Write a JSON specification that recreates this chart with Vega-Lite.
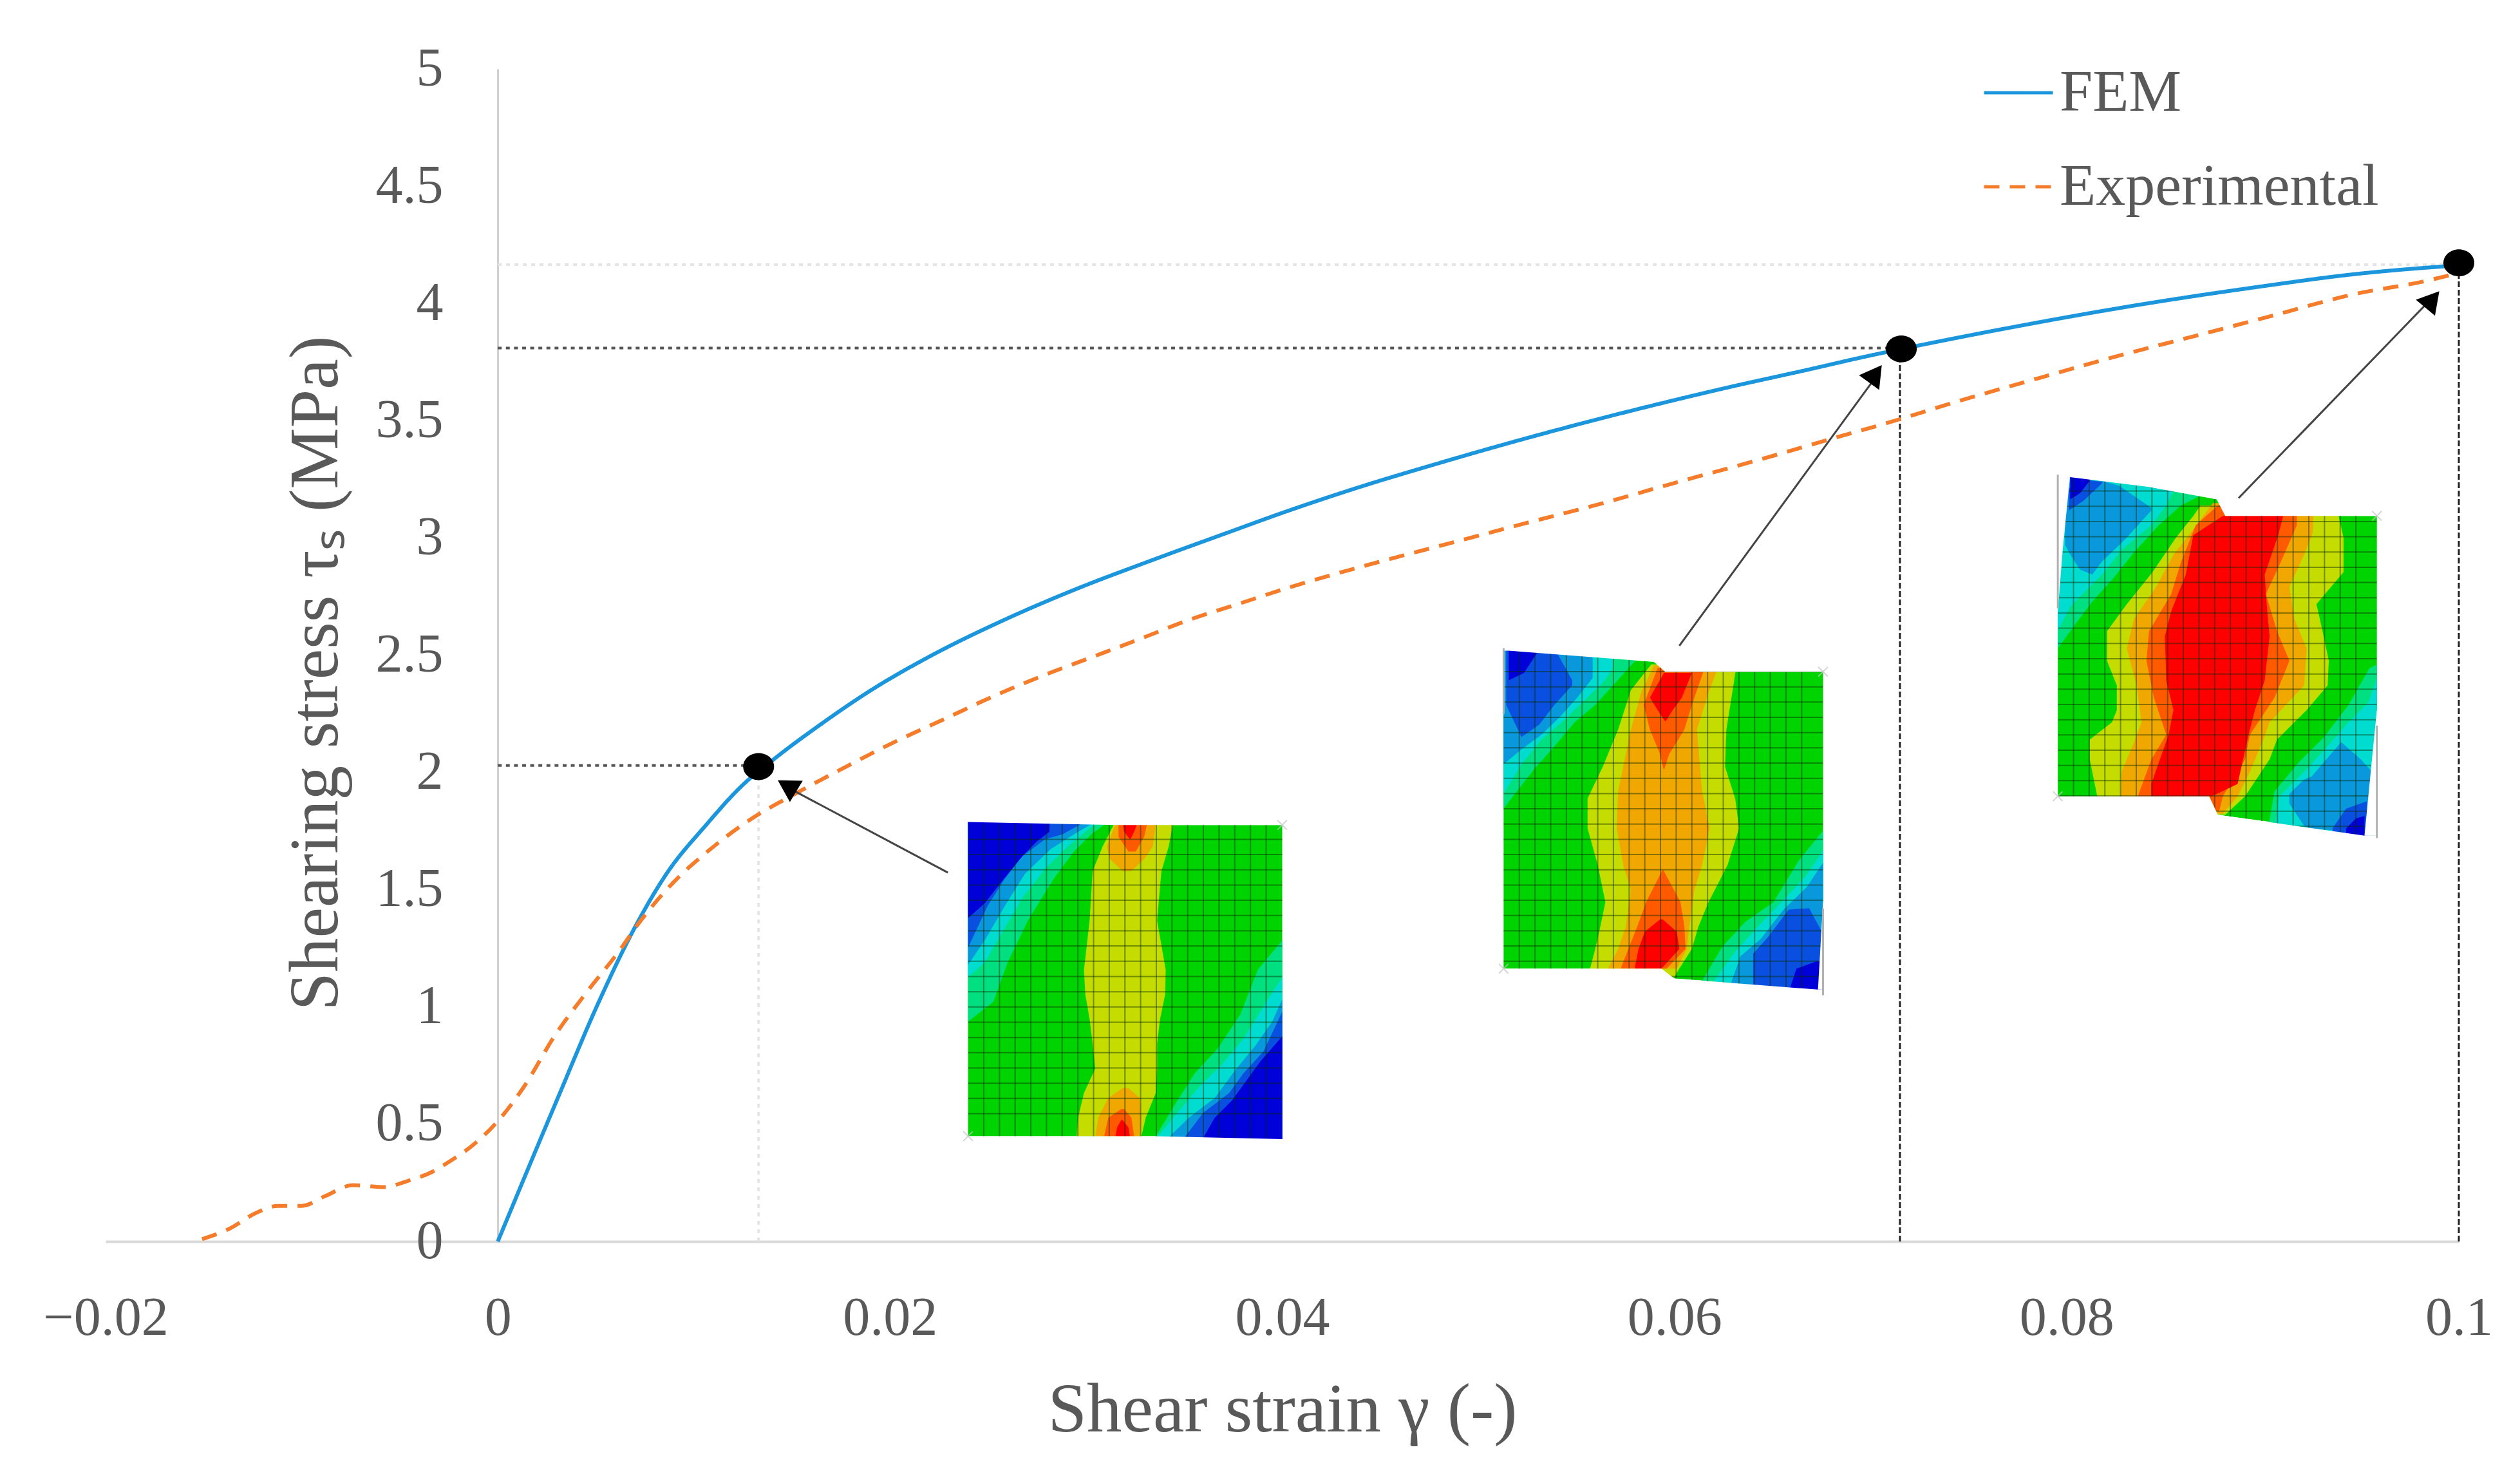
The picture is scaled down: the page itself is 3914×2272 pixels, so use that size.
{"$schema":"https://vega.github.io/schema/vega-lite/v6.json","width":3655,"height":1821,"autosize":"none","padding":{"left":164,"top":107,"right":95,"bottom":344},"background":"white","config":{"view":{"stroke":null},"font":"Liberation Serif"},
"datasets":{
"curves":[
{"series":"FEM","x":0,"y":0},{"series":"FEM","x":0.00308,"y":0.616},{"series":"FEM","x":0.00512,"y":1.016},{"series":"FEM","x":0.00702,"y":1.344},{"series":"FEM","x":0.00866,"y":1.575},{"series":"FEM","x":0.01056,"y":1.77},{"series":"FEM","x":0.01247,"y":1.945},{"series":"FEM","x":0.01413,"y":2.06},{"series":"FEM","x":0.01638,"y":2.2},{"series":"FEM","x":0.01921,"y":2.36},{"series":"FEM","x":0.02203,"y":2.495},{"series":"FEM","x":0.02581,"y":2.65},{"series":"FEM","x":0.02958,"y":2.785},{"series":"FEM","x":0.03336,"y":2.905},{"series":"FEM","x":0.03713,"y":3.02},{"series":"FEM","x":0.04028,"y":3.115},{"series":"FEM","x":0.04406,"y":3.22},{"series":"FEM","x":0.04783,"y":3.315},{"series":"FEM","x":0.05158,"y":3.405},{"series":"FEM","x":0.05535,"y":3.49},{"series":"FEM","x":0.05913,"y":3.57},{"series":"FEM","x":0.0629,"y":3.645},{"series":"FEM","x":0.06668,"y":3.715},{"series":"FEM","x":0.06983,"y":3.775},{"series":"FEM","x":0.07242,"y":3.82},{"series":"FEM","x":0.07777,"y":3.907},{"series":"FEM","x":0.08375,"y":3.995},{"series":"FEM","x":0.08972,"y":4.07},{"series":"FEM","x":0.09471,"y":4.125},{"series":"FEM","x":0.09928,"y":4.158},{"series":"FEM","x":0.1,"y":4.162},
{"series":"Experimental","x":-0.01508,"y":0.01},{"series":"Experimental","x":-0.01367,"y":0.055},{"series":"Experimental","x":-0.0123,"y":0.123},{"series":"Experimental","x":-0.0112,"y":0.152},{"series":"Experimental","x":-0.01,"y":0.152},{"series":"Experimental","x":-0.00877,"y":0.195},{"series":"Experimental","x":-0.0074,"y":0.24},{"series":"Experimental","x":-0.00577,"y":0.232},{"series":"Experimental","x":-0.00468,"y":0.256},{"series":"Experimental","x":-0.00332,"y":0.298},{"series":"Experimental","x":-0.0025,"y":0.339},{"series":"Experimental","x":-0.00114,"y":0.42},{"series":"Experimental","x":0,"y":0.513},{"series":"Experimental","x":0.00131,"y":0.657},{"series":"Experimental","x":0.00294,"y":0.882},{"series":"Experimental","x":0.00457,"y":1.067},{"series":"Experimental","x":0.0062,"y":1.24},{"series":"Experimental","x":0.00716,"y":1.354},{"series":"Experimental","x":0.00893,"y":1.529},{"series":"Experimental","x":0.01083,"y":1.672},{"series":"Experimental","x":0.013,"y":1.806},{"series":"Experimental","x":0.01492,"y":1.898},{"series":"Experimental","x":0.0177,"y":2.022},{"series":"Experimental","x":0.02016,"y":2.127},{"series":"Experimental","x":0.02278,"y":2.228},{"series":"Experimental","x":0.02525,"y":2.324},{"series":"Experimental","x":0.02771,"y":2.41},{"series":"Experimental","x":0.03034,"y":2.493},{"series":"Experimental","x":0.0328,"y":2.571},{"series":"Experimental","x":0.03523,"y":2.65},{"series":"Experimental","x":0.03789,"y":2.722},{"series":"Experimental","x":0.04028,"y":2.787},{"series":"Experimental","x":0.04442,"y":2.886},{"series":"Experimental","x":0.04839,"y":2.974},{"series":"Experimental","x":0.05233,"y":3.061},{"series":"Experimental","x":0.0563,"y":3.147},{"series":"Experimental","x":0.06024,"y":3.24},{"series":"Experimental","x":0.06422,"y":3.331},{"series":"Experimental","x":0.06819,"y":3.427},{"series":"Experimental","x":0.07072,"y":3.487},{"series":"Experimental","x":0.07459,"y":3.586},{"series":"Experimental","x":0.0786,"y":3.682},{"series":"Experimental","x":0.08257,"y":3.775},{"series":"Experimental","x":0.08654,"y":3.861},{"series":"Experimental","x":0.09051,"y":3.948},{"series":"Experimental","x":0.09448,"y":4.036},{"series":"Experimental","x":0.09849,"y":4.099},{"series":"Experimental","x":0.1,"y":4.13}],
"base":[
{"s":"a","x":0.02398,"y":1.7887,"y2":0.449},{"s":"a","x":0.0335,"y":1.776,"y2":0.449},{"s":"a","x":0.04,"y":1.776,"y2":0.4364},
{"s":"b","x":0.05129,"y":2.519,"y2":1.1634},{"s":"b","x":0.05895,"y":2.4717,"y2":1.1634},{"s":"b","x":0.05934,"y":2.45,"y2":1.1634},{"s":"b","x":0.05999,"y":2.4296,"y2":1.1214},{"s":"b","x":0.06758,"y":2.4296,"y2":1.0741},
{"s":"c","x":0.07955,"y":3.26,"y2":1.8983},{"s":"c","x":0.0842,"y":3.2171,"y2":1.8983},{"s":"c","x":0.08727,"y":3.175,"y2":1.8983},{"s":"c","x":0.08771,"y":3.1645,"y2":1.8195},{"s":"c","x":0.08809,"y":3.0941,"y2":1.8147},{"s":"c","x":0.09582,"y":3.0941,"y2":1.7302}],
"bands":[
{"s":"a","l":"L7","y":1.7803,"x":0.03143,"x2":0.03443},{"s":"a","l":"L7","y":1.6837,"x":0.03084,"x2":0.03421},{"s":"a","l":"L7","y":1.5786,"x":0.03033,"x2":0.03384},{"s":"a","l":"L7","y":1.3684,"x":0.03018,"x2":0.03362},{"s":"a","l":"L7","y":1.1583,"x":0.02989,"x2":0.03406},{"s":"a","l":"L7","y":1.0532,"x":0.02996,"x2":0.03403},{"s":"a","l":"L7","y":0.9481,"x":0.03018,"x2":0.03377},{"s":"a","l":"L7","y":0.843,"x":0.03033,"x2":0.03362},{"s":"a","l":"L7","y":0.7379,"x":0.03047,"x2":0.03362},{"s":"a","l":"L7","y":0.6329,"x":0.02989,"x2":0.03355},{"s":"a","l":"L7","y":0.5278,"x":0.02959,"x2":0.03304},{"s":"a","l":"L7","y":0.449,"x":0.02952,"x2":0.03282},
{"s":"at","l":"L8","y":1.7803,"x":0.0315,"x2":0.03355},{"s":"at","l":"L8","y":1.6837,"x":0.03106,"x2":0.0334},{"s":"at","l":"L8","y":1.6311,"x":0.03121,"x2":0.03296},{"s":"at","l":"L8","y":1.5786,"x":0.03187,"x2":0.03231},
{"s":"ab","l":"L8","y":0.6539,"x":0.03187,"x2":0.03216},{"s":"ab","l":"L8","y":0.6118,"x":0.03113,"x2":0.03274},{"s":"ab","l":"L8","y":0.5278,"x":0.03062,"x2":0.03282},{"s":"ab","l":"L8","y":0.449,"x":0.03047,"x2":0.03274},
{"s":"at","l":"L9","y":1.7803,"x":0.03165,"x2":0.03311},{"s":"at","l":"L9","y":1.7257,"x":0.03165,"x2":0.03296},{"s":"at","l":"L9","y":1.6626,"x":0.03216,"x2":0.03253},
{"s":"ab","l":"L9","y":0.5646,"x":0.03179,"x2":0.03194},{"s":"ab","l":"L9","y":0.5278,"x":0.03113,"x2":0.03231},{"s":"ab","l":"L9","y":0.449,"x":0.03092,"x2":0.03245},
{"s":"at","l":"L10","y":1.7803,"x":0.03187,"x2":0.0326},{"s":"at","l":"L10","y":1.7467,"x":0.03194,"x2":0.03245},{"s":"at","l":"L10","y":1.7152,"x":0.03223,"x2":0.03226},
{"s":"ab","l":"L10","y":0.5173,"x":0.03179,"x2":0.03187},{"s":"ab","l":"L10","y":0.4858,"x":0.03158,"x2":0.03216},{"s":"ab","l":"L10","y":0.449,"x":0.0315,"x2":0.03223},
{"s":"b","l":"L7","y":2.4611,"x":0.05882,"x2":0.06317},{"s":"b","l":"L7","y":2.3508,"x":0.05778,"x2":0.06297},{"s":"b","l":"L7","y":2.1827,"x":0.05713,"x2":0.06265},{"s":"b","l":"L7","y":2.0251,"x":0.05635,"x2":0.06258},{"s":"b","l":"L7","y":1.8885,"x":0.05557,"x2":0.0631},{"s":"b","l":"L7","y":1.7624,"x":0.05557,"x2":0.0633},{"s":"b","l":"L7","y":1.6048,"x":0.05609,"x2":0.06271},{"s":"b","l":"L7","y":1.4471,"x":0.05648,"x2":0.06174},{"s":"b","l":"L7","y":1.342,"x":0.05622,"x2":0.06122},{"s":"b","l":"L7","y":1.2475,"x":0.05596,"x2":0.06089},{"s":"b","l":"L7","y":1.1634,"x":0.0557,"x2":0.06025},{"s":"b","l":"L7","y":1.1266,"x":0.05973,"x2":0.05999},
{"s":"b","l":"L8","y":2.4559,"x":0.05895,"x2":0.06226},{"s":"b","l":"L8","y":2.3403,"x":0.0583,"x2":0.06174},{"s":"b","l":"L8","y":2.1827,"x":0.05778,"x2":0.06115},{"s":"b","l":"L8","y":1.92,"x":0.05713,"x2":0.06141},{"s":"b","l":"L8","y":1.7624,"x":0.05706,"x2":0.0618},{"s":"b","l":"L8","y":1.6048,"x":0.05739,"x2":0.06141},{"s":"b","l":"L8","y":1.4997,"x":0.05778,"x2":0.06102},{"s":"b","l":"L8","y":1.342,"x":0.05752,"x2":0.06076},{"s":"b","l":"L8","y":1.2475,"x":0.05713,"x2":0.06063},{"s":"b","l":"L8","y":1.1634,"x":0.05661,"x2":0.06012},
{"s":"bt","l":"L9","y":2.4454,"x":0.05914,"x2":0.06154},{"s":"bt","l":"L9","y":2.2878,"x":0.05843,"x2":0.06089},{"s":"bt","l":"L9","y":2.1827,"x":0.05875,"x2":0.06051},{"s":"bt","l":"L9","y":2.0776,"x":0.05927,"x2":0.05973},{"s":"bt","l":"L9","y":2.0146,"x":0.05944,"x2":0.05949},
{"s":"bb","l":"L9","y":1.5837,"x":0.05938,"x2":0.05944},{"s":"bb","l":"L9","y":1.4471,"x":0.05856,"x2":0.06031},{"s":"bb","l":"L9","y":1.342,"x":0.0581,"x2":0.06051},{"s":"bb","l":"L9","y":1.2475,"x":0.05765,"x2":0.06057},{"s":"bb","l":"L9","y":1.1634,"x":0.05726,"x2":0.0596},
{"s":"bt","l":"L10","y":2.4244,"x":0.05947,"x2":0.06089},{"s":"bt","l":"L10","y":2.3193,"x":0.05875,"x2":0.06038},{"s":"bt","l":"L10","y":2.2667,"x":0.05914,"x2":0.05992},{"s":"bt","l":"L10","y":2.2195,"x":0.05951,"x2":0.05956},
{"s":"bb","l":"L10","y":1.3736,"x":0.05927,"x2":0.0594},{"s":"bb","l":"L10","y":1.321,"x":0.05849,"x2":0.06012},{"s":"bb","l":"L10","y":1.2475,"x":0.05817,"x2":0.06025},{"s":"bb","l":"L10","y":1.1634,"x":0.05797,"x2":0.05934},
{"s":"c","l":"L7","y":3.1383,"x":0.08683,"x2":0.09387},{"s":"c","l":"L7","y":3.0941,"x":0.08646,"x2":0.09387},{"s":"c","l":"L7","y":3.0017,"x":0.08558,"x2":0.09412},{"s":"c","l":"L7","y":2.8545,"x":0.08438,"x2":0.09412},{"s":"c","l":"L7","y":2.7179,"x":0.08307,"x2":0.09274},{"s":"c","l":"L7","y":2.6024,"x":0.08206,"x2":0.09305},{"s":"c","l":"L7","y":2.4763,"x":0.08206,"x2":0.09337},{"s":"c","l":"L7","y":2.3712,"x":0.08256,"x2":0.09331},{"s":"c","l":"L7","y":2.2661,"x":0.08256,"x2":0.09224},{"s":"c","l":"L7","y":2.2136,"x":0.08231,"x2":0.09161},{"s":"c","l":"L7","y":2.14,"x":0.08118,"x2":0.09073},{"s":"c","l":"L7","y":2.0559,"x":0.08118,"x2":0.09035},{"s":"c","l":"L7","y":1.8983,"x":0.08156,"x2":0.0891},{"s":"c","l":"L7","y":1.8195,"x":0.08771,"x2":0.08809},
{"s":"c","l":"L8","y":3.1488,"x":0.08746,"x2":0.09261},{"s":"c","l":"L8","y":3.0227,"x":0.08633,"x2":0.09255},{"s":"c","l":"L8","y":2.9281,"x":0.08545,"x2":0.09211},{"s":"c","l":"L8","y":2.7915,"x":0.08457,"x2":0.09136},{"s":"c","l":"L8","y":2.6549,"x":0.08344,"x2":0.09161},{"s":"c","l":"L8","y":2.5288,"x":0.08307,"x2":0.09224},{"s":"c","l":"L8","y":2.3712,"x":0.08357,"x2":0.09211},{"s":"c","l":"L8","y":2.2136,"x":0.08382,"x2":0.09035},{"s":"c","l":"L8","y":2.1295,"x":0.08344,"x2":0.08998},{"s":"c","l":"L8","y":2.0034,"x":0.08281,"x2":0.08935},{"s":"c","l":"L8","y":1.8983,"x":0.08275,"x2":0.08872},{"s":"c","l":"L8","y":1.8248,"x":0.08778,"x2":0.08797},
{"s":"c","l":"L9","y":3.1383,"x":0.08771,"x2":0.09174},{"s":"c","l":"L9","y":3.0542,"x":0.08658,"x2":0.09174},{"s":"c","l":"L9","y":2.8966,"x":0.08583,"x2":0.09092},{"s":"c","l":"L9","y":2.76,"x":0.08533,"x2":0.09016},{"s":"c","l":"L9","y":2.6024,"x":0.0842,"x2":0.09073},{"s":"c","l":"L9","y":2.4763,"x":0.08407,"x2":0.09136},{"s":"c","l":"L9","y":2.3186,"x":0.08445,"x2":0.0906},{"s":"c","l":"L9","y":2.161,"x":0.08508,"x2":0.08935},{"s":"c","l":"L9","y":2.0559,"x":0.08432,"x2":0.0891},{"s":"c","l":"L9","y":1.8983,"x":0.08363,"x2":0.08797},{"s":"c","l":"L9","y":1.8353,"x":0.08759,"x2":0.08778},
{"s":"c","l":"L10","y":3.0941,"x":0.08797,"x2":0.09104},{"s":"c","l":"L10","y":3.0122,"x":0.08646,"x2":0.09079},{"s":"c","l":"L10","y":2.844,"x":0.08608,"x2":0.0901},{"s":"c","l":"L10","y":2.6864,"x":0.08533,"x2":0.09023},{"s":"c","l":"L10","y":2.5813,"x":0.08501,"x2":0.09035},{"s":"c","l":"L10","y":2.3922,"x":0.08508,"x2":0.0901},{"s":"c","l":"L10","y":2.2661,"x":0.08545,"x2":0.0896},{"s":"c","l":"L10","y":2.161,"x":0.0852,"x2":0.08928},{"s":"c","l":"L10","y":1.9509,"x":0.08432,"x2":0.08872},{"s":"c","l":"L10","y":1.8983,"x":0.08432,"x2":0.0874}],
"corners":[
{"s":"atl","l":"L5","x":0.02398,"y":1.79,"y2":0.9376},{"s":"atl","l":"L5","x":0.02527,"y":1.79,"y2":1.0217},{"s":"atl","l":"L5","x":0.026,"y":1.79,"y2":1.1898},{"s":"atl","l":"L5","x":0.02703,"y":1.79,"y2":1.3684},{"s":"atl","l":"L5","x":0.02835,"y":1.79,"y2":1.5471},{"s":"atl","l":"L5","x":0.02938,"y":1.79,"y2":1.6626},{"s":"atl","l":"L5","x":0.03026,"y":1.79,"y2":1.7362},{"s":"atl","l":"L5","x":0.03099,"y":1.79,"y2":1.7803},
{"s":"atl","l":"L4","x":0.02398,"y":1.79,"y2":1.1267},{"s":"atl","l":"L4","x":0.02483,"y":1.79,"y2":1.1898},{"s":"atl","l":"L4","x":0.02571,"y":1.79,"y2":1.3159},{"s":"atl","l":"L4","x":0.02673,"y":1.79,"y2":1.463},{"s":"atl","l":"L4","x":0.02791,"y":1.79,"y2":1.5891},{"s":"atl","l":"L4","x":0.02893,"y":1.79,"y2":1.6732},{"s":"atl","l":"L4","x":0.03011,"y":1.79,"y2":1.7572},{"s":"atl","l":"L4","x":0.03055,"y":1.79,"y2":1.78},
{"s":"atl","l":"L3","x":0.02398,"y":1.79,"y2":1.1793},{"s":"atl","l":"L3","x":0.02483,"y":1.79,"y2":1.2844},{"s":"atl","l":"L3","x":0.02586,"y":1.79,"y2":1.4315},{"s":"atl","l":"L3","x":0.02688,"y":1.79,"y2":1.5681},{"s":"atl","l":"L3","x":0.0282,"y":1.79,"y2":1.6732},{"s":"atl","l":"L3","x":0.02938,"y":1.79,"y2":1.7362},{"s":"atl","l":"L3","x":0.03026,"y":1.79,"y2":1.78},
{"s":"atl","l":"L2","x":0.02398,"y":1.79,"y2":1.2528},{"s":"atl","l":"L2","x":0.02498,"y":1.79,"y2":1.4315},{"s":"atl","l":"L2","x":0.02586,"y":1.79,"y2":1.5471},{"s":"atl","l":"L2","x":0.02673,"y":1.79,"y2":1.6416},{"s":"atl","l":"L2","x":0.02791,"y":1.79,"y2":1.7152},{"s":"atl","l":"L2","x":0.02879,"y":1.79,"y2":1.7362},{"s":"atl","l":"L2","x":0.02974,"y":1.79,"y2":1.78},
{"s":"atl","l":"L1","x":0.02398,"y":1.79,"y2":1.3789},{"s":"atl","l":"L1","x":0.02483,"y":1.79,"y2":1.442},{"s":"atl","l":"L1","x":0.02571,"y":1.79,"y2":1.5365},{"s":"atl","l":"L1","x":0.02673,"y":1.79,"y2":1.6416},{"s":"atl","l":"L1","x":0.02747,"y":1.79,"y2":1.7047},{"s":"atl","l":"L1","x":0.02813,"y":1.79,"y2":1.7467},{"s":"atl","l":"L1","x":0.02814,"y":1.79,"y2":1.78},
{"s":"abr","l":"L5","x":0.03355,"y":0.449,"y2":0.43},{"s":"abr","l":"L5","x":0.0345,"y":0.5803,"y2":0.43},{"s":"abr","l":"L5","x":0.03553,"y":0.7169,"y2":0.43},{"s":"abr","l":"L5","x":0.0367,"y":0.822,"y2":0.43},{"s":"abr","l":"L5","x":0.03787,"y":0.9691,"y2":0.43},{"s":"abr","l":"L5","x":0.03875,"y":1.1583,"y2":0.43},{"s":"abr","l":"L5","x":0.04,"y":1.2844,"y2":0.43},
{"s":"abr","l":"L4","x":0.03362,"y":0.4437,"y2":0.43},{"s":"abr","l":"L4","x":0.03465,"y":0.5488,"y2":0.43},{"s":"abr","l":"L4","x":0.03582,"y":0.6644,"y2":0.43},{"s":"abr","l":"L4","x":0.03685,"y":0.7485,"y2":0.43},{"s":"abr","l":"L4","x":0.03802,"y":0.864,"y2":0.43},{"s":"abr","l":"L4","x":0.03919,"y":1.0217,"y2":0.43},{"s":"abr","l":"L4","x":0.04,"y":1.1267,"y2":0.43},
{"s":"abr","l":"L3","x":0.03421,"y":0.4437,"y2":0.43},{"s":"abr","l":"L3","x":0.03524,"y":0.5278,"y2":0.43},{"s":"abr","l":"L3","x":0.03656,"y":0.6118,"y2":0.43},{"s":"abr","l":"L3","x":0.03758,"y":0.7274,"y2":0.43},{"s":"abr","l":"L3","x":0.03861,"y":0.8325,"y2":0.43},{"s":"abr","l":"L3","x":0.03949,"y":0.9376,"y2":0.43},{"s":"abr","l":"L3","x":0.04,"y":1.0322,"y2":0.43},
{"s":"abr","l":"L2","x":0.03502,"y":0.4437,"y2":0.43},{"s":"abr","l":"L2","x":0.03597,"y":0.5488,"y2":0.43},{"s":"abr","l":"L2","x":0.03729,"y":0.6329,"y2":0.43},{"s":"abr","l":"L2","x":0.03802,"y":0.7169,"y2":0.43},{"s":"abr","l":"L2","x":0.03905,"y":0.8115,"y2":0.43},{"s":"abr","l":"L2","x":0.04,"y":0.9796,"y2":0.43},
{"s":"abr","l":"L1","x":0.03597,"y":0.4416,"y2":0.43},{"s":"abr","l":"L1","x":0.03656,"y":0.5278,"y2":0.43},{"s":"abr","l":"L1","x":0.03744,"y":0.6013,"y2":0.43},{"s":"abr","l":"L1","x":0.0389,"y":0.7695,"y2":0.43},{"s":"abr","l":"L1","x":0.04,"y":0.8745,"y2":0.43},
{"s":"btl","l":"L5","x":0.05129,"y":2.53,"y2":1.8464},{"s":"btl","l":"L5","x":0.05207,"y":2.53,"y2":1.9305},{"s":"btl","l":"L5","x":0.05285,"y":2.53,"y2":2.0146},{"s":"btl","l":"L5","x":0.05375,"y":2.53,"y2":2.0986},{"s":"btl","l":"L5","x":0.05492,"y":2.53,"y2":2.2142},{"s":"btl","l":"L5","x":0.05596,"y":2.53,"y2":2.2878},{"s":"btl","l":"L5","x":0.057,"y":2.53,"y2":2.3823},{"s":"btl","l":"L5","x":0.05778,"y":2.53,"y2":2.4559},{"s":"btl","l":"L5","x":0.05804,"y":2.53,"y2":2.479},
{"s":"btl","l":"L4","x":0.05129,"y":2.53,"y2":1.9095},{"s":"btl","l":"L4","x":0.0522,"y":2.53,"y2":2.0356},{"s":"btl","l":"L4","x":0.05323,"y":2.53,"y2":2.1407},{"s":"btl","l":"L4","x":0.05427,"y":2.53,"y2":2.2142},{"s":"btl","l":"L4","x":0.05531,"y":2.53,"y2":2.2983},{"s":"btl","l":"L4","x":0.05635,"y":2.53,"y2":2.3823},{"s":"btl","l":"L4","x":0.05687,"y":2.53,"y2":2.4454},
{"s":"btl","l":"L3","x":0.05129,"y":2.53,"y2":2.0356},{"s":"btl","l":"L3","x":0.0522,"y":2.53,"y2":2.0986},{"s":"btl","l":"L3","x":0.05323,"y":2.53,"y2":2.1617},{"s":"btl","l":"L3","x":0.05414,"y":2.53,"y2":2.2352},{"s":"btl","l":"L3","x":0.05505,"y":2.53,"y2":2.3193},{"s":"btl","l":"L3","x":0.05583,"y":2.53,"y2":2.4033},
{"s":"btl","l":"L2","x":0.05142,"y":2.53,"y2":2.2878},{"s":"btl","l":"L2","x":0.0522,"y":2.53,"y2":2.1512},{"s":"btl","l":"L2","x":0.0531,"y":2.53,"y2":2.2037},{"s":"btl","l":"L2","x":0.05388,"y":2.53,"y2":2.2878},{"s":"btl","l":"L2","x":0.05479,"y":2.3928,"y2":2.3718},
{"s":"btl","l":"L1","x":0.05155,"y":2.53,"y2":2.3928},{"s":"btl","l":"L1","x":0.05233,"y":2.53,"y2":2.4244},{"s":"btl","l":"L1","x":0.05298,"y":2.53,"y2":2.508},
{"s":"bbr","l":"L5","x":0.06141,"y":1.1109,"y2":1.05},{"s":"bbr","l":"L5","x":0.06245,"y":1.258,"y2":1.05},{"s":"bbr","l":"L5","x":0.06362,"y":1.3631,"y2":1.05},{"s":"bbr","l":"L5","x":0.06505,"y":1.4471,"y2":1.05},{"s":"bbr","l":"L5","x":0.06635,"y":1.6258,"y2":1.05},{"s":"bbr","l":"L5","x":0.06758,"y":1.7519,"y2":1.05},
{"s":"bbr","l":"L4","x":0.06193,"y":1.1004,"y2":1.05},{"s":"bbr","l":"L4","x":0.0631,"y":1.237,"y2":1.05},{"s":"bbr","l":"L4","x":0.06414,"y":1.3315,"y2":1.05},{"s":"bbr","l":"L4","x":0.0657,"y":1.4681,"y2":1.05},{"s":"bbr","l":"L4","x":0.06674,"y":1.5627,"y2":1.05},{"s":"bbr","l":"L4","x":0.06758,"y":1.6678,"y2":1.05},
{"s":"bbr","l":"L3","x":0.06284,"y":1.0899,"y2":1.05},{"s":"bbr","l":"L3","x":0.06336,"y":1.216,"y2":1.05},{"s":"bbr","l":"L3","x":0.0644,"y":1.2895,"y2":1.05},{"s":"bbr","l":"L3","x":0.06557,"y":1.4156,"y2":1.05},{"s":"bbr","l":"L3","x":0.06674,"y":1.5102,"y2":1.05},{"s":"bbr","l":"L3","x":0.06758,"y":1.6153,"y2":1.05},
{"s":"bbr","l":"L2","x":0.06401,"y":1.2265,"y2":1.05},{"s":"bbr","l":"L2","x":0.06479,"y":1.3,"y2":1.05},{"s":"bbr","l":"L2","x":0.06583,"y":1.4156,"y2":1.05},{"s":"bbr","l":"L2","x":0.06687,"y":1.4209,"y2":1.05},{"s":"bbr","l":"L2","x":0.06752,"y":1.321,"y2":1.05},
{"s":"bbr","l":"L1","x":0.06589,"y":1.0794,"y2":1.05},{"s":"bbr","l":"L1","x":0.06622,"y":1.1634,"y2":1.05},{"s":"bbr","l":"L1","x":0.06726,"y":1.195,"y2":1.05},{"s":"bbr","l":"L1","x":0.06752,"y":1.195,"y2":1.05},
{"s":"ctl","l":"L5","x":0.07955,"y":3.27,"y2":2.5288},{"s":"ctl","l":"L5","x":0.08055,"y":3.27,"y2":2.6444},{"s":"ctl","l":"L5","x":0.08131,"y":3.27,"y2":2.7285},{"s":"ctl","l":"L5","x":0.08244,"y":3.27,"y2":2.8335},{"s":"ctl","l":"L5","x":0.08344,"y":3.27,"y2":2.9386},{"s":"ctl","l":"L5","x":0.0847,"y":3.27,"y2":3.0542},{"s":"ctl","l":"L5","x":0.08583,"y":3.27,"y2":3.1383},{"s":"ctl","l":"L5","x":0.08683,"y":3.27,"y2":3.1803},
{"s":"ctl","l":"L4","x":0.07955,"y":3.27,"y2":2.6024},{"s":"ctl","l":"L4","x":0.08018,"y":3.27,"y2":2.7074},{"s":"ctl","l":"L4","x":0.08093,"y":3.27,"y2":2.7705},{"s":"ctl","l":"L4","x":0.08181,"y":3.27,"y2":2.844},{"s":"ctl","l":"L4","x":0.08281,"y":3.27,"y2":2.9491},{"s":"ctl","l":"L4","x":0.08432,"y":3.27,"y2":3.0542},{"s":"ctl","l":"L4","x":0.08508,"y":3.27,"y2":3.1383},{"s":"ctl","l":"L4","x":0.08545,"y":3.27,"y2":3.2013},
{"s":"ctl","l":"L3","x":0.07992,"y":3.1067,"y2":2.9701},{"s":"ctl","l":"L3","x":0.08018,"y":3.2539,"y2":2.93},{"s":"ctl","l":"L3","x":0.08068,"y":3.25,"y2":2.8651},{"s":"ctl","l":"L3","x":0.08131,"y":3.245,"y2":2.844},{"s":"ctl","l":"L3","x":0.08181,"y":3.2433,"y2":2.9},{"s":"ctl","l":"L3","x":0.08269,"y":3.2223,"y2":2.97},{"s":"ctl","l":"L3","x":0.08307,"y":3.2,"y2":3.0017},{"s":"ctl","l":"L3","x":0.08432,"y":3.1278,"y2":3.1172},
{"s":"ctl","l":"L2","x":0.08011,"y":3.2118,"y2":3.1172},{"s":"ctl","l":"L2","x":0.08087,"y":3.25,"y2":3.1593},{"s":"ctl","l":"L2","x":0.08181,"y":3.2381,"y2":3.2328},
{"s":"ctl","l":"L1","x":0.08018,"y":3.27,"y2":3.1645},{"s":"ctl","l":"L1","x":0.08068,"y":3.27,"y2":3.1908},{"s":"ctl","l":"L1","x":0.08118,"y":3.27,"y2":3.2433},
{"s":"cbr","l":"L5","x":0.09029,"y":1.7722,"y2":1.7},{"s":"cbr","l":"L5","x":0.0906,"y":1.9193,"y2":1.7},{"s":"cbr","l":"L5","x":0.09186,"y":2.0454,"y2":1.7},{"s":"cbr","l":"L5","x":0.09312,"y":2.1505,"y2":1.7},{"s":"cbr","l":"L5","x":0.09437,"y":2.2871,"y2":1.7},{"s":"cbr","l":"L5","x":0.09544,"y":2.4447,"y2":1.7},{"s":"cbr","l":"L5","x":0.09582,"y":2.4605,"y2":1.7},
{"s":"cbr","l":"L4","x":0.0906,"y":1.7617,"y2":1.7},{"s":"cbr","l":"L4","x":0.09085,"y":1.8983,"y2":1.7},{"s":"cbr","l":"L4","x":0.09224,"y":2.0139,"y2":1.7},{"s":"cbr","l":"L4","x":0.09349,"y":2.1295,"y2":1.7},{"s":"cbr","l":"L4","x":0.09425,"y":2.203,"y2":1.7},{"s":"cbr","l":"L4","x":0.09538,"y":2.2976,"y2":1.7},{"s":"cbr","l":"L4","x":0.09582,"y":2.4027,"y2":1.7},
{"s":"cbr","l":"L3","x":0.09136,"y":1.9088,"y2":1.8668},{"s":"cbr","l":"L3","x":0.09211,"y":1.97,"y2":1.7722},{"s":"cbr","l":"L3","x":0.09249,"y":1.9824,"y2":1.76},{"s":"cbr","l":"L3","x":0.094,"y":2.1295,"y2":1.7512},{"s":"cbr","l":"L3","x":0.095,"y":2.0559,"y2":1.74},{"s":"cbr","l":"L3","x":0.09557,"y":2.0034,"y2":1.73},
{"s":"cbr","l":"L2","x":0.09356,"y":1.7617,"y2":1.7},{"s":"cbr","l":"L2","x":0.09425,"y":1.8458,"y2":1.7},{"s":"cbr","l":"L2","x":0.09532,"y":1.8773,"y2":1.7},
{"s":"cbr","l":"L1","x":0.09425,"y":1.7617,"y2":1.7},{"s":"cbr","l":"L1","x":0.09475,"y":1.8037,"y2":1.7},{"s":"cbr","l":"L1","x":0.09519,"y":1.8143,"y2":1.7}],
"vmesh":[
{"x":0.02478,"y":1.78,"y2":0.44},{"x":0.02558,"y":1.78,"y2":0.44},{"x":0.02638,"y":1.78,"y2":0.44},{"x":0.02718,"y":1.78,"y2":0.44},{"x":0.02798,"y":1.78,"y2":0.44},{"x":0.02878,"y":1.78,"y2":0.44},{"x":0.02958,"y":1.78,"y2":0.44},{"x":0.03038,"y":1.78,"y2":0.44},{"x":0.03118,"y":1.78,"y2":0.44},{"x":0.03198,"y":1.78,"y2":0.44},{"x":0.03278,"y":1.78,"y2":0.44},{"x":0.03358,"y":1.78,"y2":0.44},{"x":0.03438,"y":1.78,"y2":0.44},{"x":0.03518,"y":1.78,"y2":0.44},{"x":0.03598,"y":1.78,"y2":0.44},{"x":0.03678,"y":1.78,"y2":0.44},{"x":0.03758,"y":1.78,"y2":0.44},{"x":0.03838,"y":1.78,"y2":0.44},{"x":0.03918,"y":1.78,"y2":0.44},
{"x":0.05209,"y":2.53,"y2":1.07},{"x":0.05289,"y":2.53,"y2":1.07},{"x":0.05369,"y":2.53,"y2":1.07},{"x":0.05449,"y":2.53,"y2":1.07},{"x":0.05529,"y":2.53,"y2":1.07},{"x":0.05609,"y":2.53,"y2":1.07},{"x":0.05689,"y":2.53,"y2":1.07},{"x":0.05769,"y":2.53,"y2":1.07},{"x":0.05849,"y":2.53,"y2":1.07},{"x":0.05929,"y":2.53,"y2":1.07},{"x":0.06009,"y":2.53,"y2":1.07},{"x":0.06089,"y":2.53,"y2":1.07},{"x":0.06169,"y":2.53,"y2":1.07},{"x":0.06249,"y":2.53,"y2":1.07},{"x":0.06329,"y":2.53,"y2":1.07},{"x":0.06409,"y":2.53,"y2":1.07},{"x":0.06489,"y":2.53,"y2":1.07},{"x":0.06569,"y":2.53,"y2":1.07},{"x":0.06649,"y":2.53,"y2":1.07},
{"x":0.08035,"y":3.27,"y2":1.73},{"x":0.08115,"y":3.27,"y2":1.73},{"x":0.08195,"y":3.27,"y2":1.73},{"x":0.08275,"y":3.27,"y2":1.73},{"x":0.08355,"y":3.27,"y2":1.73},{"x":0.08435,"y":3.27,"y2":1.73},{"x":0.08515,"y":3.27,"y2":1.73},{"x":0.08595,"y":3.27,"y2":1.73},{"x":0.08675,"y":3.27,"y2":1.73},{"x":0.08755,"y":3.27,"y2":1.73},{"x":0.08835,"y":3.27,"y2":1.73},{"x":0.08915,"y":3.27,"y2":1.73},{"x":0.08995,"y":3.27,"y2":1.73},{"x":0.09075,"y":3.27,"y2":1.73},{"x":0.09155,"y":3.27,"y2":1.73},{"x":0.09235,"y":3.27,"y2":1.73},{"x":0.09315,"y":3.27,"y2":1.73},{"x":0.09395,"y":3.27,"y2":1.73},{"x":0.09475,"y":3.27,"y2":1.73}],
"hmesh":[
{"y":1.715,"x":0.02398,"x2":0.04},{"y":1.65,"x":0.02398,"x2":0.04},{"y":1.585,"x":0.02398,"x2":0.04},{"y":1.52,"x":0.02398,"x2":0.04},{"y":1.455,"x":0.02398,"x2":0.04},{"y":1.39,"x":0.02398,"x2":0.04},{"y":1.325,"x":0.02398,"x2":0.04},{"y":1.26,"x":0.02398,"x2":0.04},{"y":1.195,"x":0.02398,"x2":0.04},{"y":1.13,"x":0.02398,"x2":0.04},{"y":1.065,"x":0.02398,"x2":0.04},{"y":1.0,"x":0.02398,"x2":0.04},{"y":0.935,"x":0.02398,"x2":0.04},{"y":0.87,"x":0.02398,"x2":0.04},{"y":0.805,"x":0.02398,"x2":0.04},{"y":0.74,"x":0.02398,"x2":0.04},{"y":0.675,"x":0.02398,"x2":0.04},{"y":0.61,"x":0.02398,"x2":0.04},{"y":0.545,"x":0.02398,"x2":0.04},
{"y":2.43,"x":0.05129,"x2":0.06758},{"y":2.365,"x":0.05129,"x2":0.06758},{"y":2.3,"x":0.05129,"x2":0.06758},{"y":2.235,"x":0.05129,"x2":0.06758},{"y":2.17,"x":0.05129,"x2":0.06758},{"y":2.105,"x":0.05129,"x2":0.06758},{"y":2.04,"x":0.05129,"x2":0.06758},{"y":1.975,"x":0.05129,"x2":0.06758},{"y":1.91,"x":0.05129,"x2":0.06758},{"y":1.845,"x":0.05129,"x2":0.06758},{"y":1.78,"x":0.05129,"x2":0.06758},{"y":1.715,"x":0.05129,"x2":0.06758},{"y":1.65,"x":0.05129,"x2":0.06758},{"y":1.585,"x":0.05129,"x2":0.06758},{"y":1.52,"x":0.05129,"x2":0.06758},{"y":1.455,"x":0.05129,"x2":0.06758},{"y":1.39,"x":0.05129,"x2":0.06758},{"y":1.325,"x":0.05129,"x2":0.06758},{"y":1.26,"x":0.05129,"x2":0.06758},{"y":1.195,"x":0.05129,"x2":0.06758},{"y":1.13,"x":0.05129,"x2":0.06758},
{"y":3.2,"x":0.07955,"x2":0.09582},{"y":3.135,"x":0.07955,"x2":0.09582},{"y":3.07,"x":0.07955,"x2":0.09582},{"y":3.005,"x":0.07955,"x2":0.09582},{"y":2.94,"x":0.07955,"x2":0.09582},{"y":2.875,"x":0.07955,"x2":0.09582},{"y":2.81,"x":0.07955,"x2":0.09582},{"y":2.745,"x":0.07955,"x2":0.09582},{"y":2.68,"x":0.07955,"x2":0.09582},{"y":2.615,"x":0.07955,"x2":0.09582},{"y":2.55,"x":0.07955,"x2":0.09582},{"y":2.485,"x":0.07955,"x2":0.09582},{"y":2.42,"x":0.07955,"x2":0.09582},{"y":2.355,"x":0.07955,"x2":0.09582},{"y":2.29,"x":0.07955,"x2":0.09582},{"y":2.225,"x":0.07955,"x2":0.09582},{"y":2.16,"x":0.07955,"x2":0.09582},{"y":2.095,"x":0.07955,"x2":0.09582},{"y":2.03,"x":0.07955,"x2":0.09582},{"y":1.965,"x":0.07955,"x2":0.09582},{"y":1.9,"x":0.07955,"x2":0.09582},{"y":1.835,"x":0.07955,"x2":0.09582},{"y":1.77,"x":0.07955,"x2":0.09582}],
"maskv":[
{"s":"at","x":0.0235,"y":1.7887,"y2":1.83},{"s":"at","x":0.02398,"y":1.7887,"y2":1.83},{"s":"at","x":0.0315,"y":1.776,"y2":1.83},{"s":"at","x":0.0405,"y":1.776,"y2":1.83},
{"s":"ab","x":0.0235,"y":0.449,"y2":0.4},{"s":"ab","x":0.0335,"y":0.449,"y2":0.4},{"s":"ab","x":0.04,"y":0.4364,"y2":0.4},{"s":"ab","x":0.0405,"y":0.4364,"y2":0.4},
{"s":"bt","x":0.0508,"y":2.519,"y2":2.57},{"s":"bt","x":0.05155,"y":2.519,"y2":2.57},{"s":"bt","x":0.05895,"y":2.4717,"y2":2.57},{"s":"bt","x":0.05953,"y":2.4296,"y2":2.57},{"s":"bt","x":0.0681,"y":2.4296,"y2":2.57},
{"s":"bb","x":0.0508,"y":1.1634,"y2":1.03},{"s":"bb","x":0.05934,"y":1.1634,"y2":1.03},{"s":"bb","x":0.05999,"y":1.1214,"y2":1.03},{"s":"bb","x":0.06732,"y":1.0741,"y2":1.03},{"s":"bb","x":0.0681,"y":1.0741,"y2":1.03},
{"s":"ct","x":0.079,"y":3.2591,"y2":3.32},{"s":"ct","x":0.08018,"y":3.2591,"y2":3.32},{"s":"ct","x":0.0842,"y":3.2171,"y2":3.32},{"s":"ct","x":0.08765,"y":3.1645,"y2":3.32},{"s":"ct","x":0.08809,"y":3.0941,"y2":3.32},{"s":"ct","x":0.0965,"y":3.0941,"y2":3.32},
{"s":"cb","x":0.079,"y":1.8983,"y2":1.69},{"s":"cb","x":0.08727,"y":1.8983,"y2":1.69},{"s":"cb","x":0.08771,"y":1.8195,"y2":1.69},{"s":"cb","x":0.09519,"y":1.7302,"y2":1.69},{"s":"cb","x":0.0965,"y":1.7302,"y2":1.69}],
"maskh":[
{"s":"cl","y":3.27,"x":0.0792,"x2":0.08018},{"s":"cl","y":2.9491,"x":0.0792,"x2":0.0798},{"s":"cl","y":2.6864,"x":0.0792,"x2":0.07955},
{"s":"cr","y":2.2661,"x":0.09582,"x2":0.0965},{"s":"cr","y":2.0559,"x":0.09557,"x2":0.0965},{"s":"cr","y":1.7302,"x":0.09519,"x2":0.0965},
{"s":"br","y":1.45,"x":0.06758,"x2":0.0681},{"s":"br","y":1.0741,"x":0.06732,"x2":0.0681}],
"frames":[{"x":0.05129,"y":2.53,"y2":2.25},{"x":0.06758,"y":1.42,"y2":1.05},{"x":0.07955,"y":3.27,"y2":2.7},{"x":0.09582,"y":2.2,"y2":1.72}],
"crosses":[{"x":0.04,"y":1.776},{"x":0.02398,"y":0.449},{"x":0.06758,"y":2.4296},{"x":0.05129,"y":1.1634},{"x":0.09582,"y":3.0941},{"x":0.07955,"y":1.8983}],
"dark":[{"x":0,"x2":0.0133,"y":2.03},{"x":0,"x2":0.0715,"y":3.81}],
"light":[{"x":0,"x2":0.1,"y":4.165}],
"lightv":[{"x":0.0133,"y":0,"y2":2.03}],
"drop":[{"x":0.0715,"y":0,"y2":3.81},{"x":0.1,"y":0,"y2":4.165}],
"arrows":[{"x":0.02295,"y":1.573,"x2":0.01492,"y2":1.93},{"x":0.06025,"y":2.54,"x2":0.0703,"y2":3.69},{"x":0.08877,"y":3.17,"x2":0.0986,"y2":4.02}],
"heads":[{"x":0.01475,"y":1.943,"a":301},{"x":0.07025,"y":3.7,"a":36},{"x":0.09865,"y":4.017,"a":40}],
"pts":[{"x":0.0133,"y":2.025},{"x":0.07157,"y":3.806},{"x":0.1,"y":4.173}]},
"layer":[
{"data":{"name":"base"},"mark":{"type":"area","fill":"#00d400"},"encoding":{"x":{"field":"x","type":"quantitative","scale":{"domain":[-0.02,0.1],"nice":false,"zero":false},"axis":{"values":[-0.02,0,0.02,0.04,0.06,0.08,0.1],"format":"~g","title":"Shear strain γ (-)","titleFont":"Liberation Serif","titleFontSize":109,"titleFontWeight":"normal","titleColor":"#595959","titlePadding":47,"labelFont":"Liberation Serif","labelFontSize":84,"labelColor":"#595959","labelPadding":78,"labelLimit":500,"ticks":false,"grid":false,"domainColor":"#d9d9d9","domainWidth":4,"labelFlush":false,"labelOverlap":false}},"y":{"field":"y","type":"quantitative","scale":{"domain":[0,5],"nice":false},"axis":{"values":[0,0.5,1,1.5,2,2.5,3,3.5,4,4.5,5],"format":"~g","offset":-609,"title":"Shearing stress τₛ (MPa)","titleFont":"Liberation Serif","titleFontSize":107,"titleFontWeight":"normal","titleColor":"#595959","titlePadding":38,"titleY":938,"labelFont":"Liberation Serif","labelFontSize":84,"labelColor":"#595959","labelPadding":85,"ticks":false,"grid":false,"domainColor":"#d0d0d0","domainWidth":3,"labelOverlap":false}},"y2":{"field":"y2"},"detail":{"field":"s"}}},
{"data":{"name":"bands"},"mark":{"type":"area","orient":"horizontal"},"encoding":{"y":{"field":"y","type":"quantitative"},"x":{"field":"x","type":"quantitative"},"x2":{"field":"x2"},"detail":{"field":"s"},"fill":{"field":"l","type":"nominal","legend":null,"scale":{"domain":["L1","L2","L3","L4","L5","L7","L8","L9","L10"],"range":["#0000d8","#0a50e0","#0a98dc","#00dcd0","#00e080","#c4dc00","#f0a800","#ff5a00","#ff0000"]}}}},
{"data":{"name":"corners"},"mark":{"type":"area"},"encoding":{"x":{"field":"x","type":"quantitative"},"y":{"field":"y","type":"quantitative"},"y2":{"field":"y2"},"detail":{"field":"s"},"fill":{"field":"l","type":"nominal","legend":null,"scale":{"domain":["L1","L2","L3","L4","L5","L7","L8","L9","L10"],"range":["#0000d8","#0a50e0","#0a98dc","#00dcd0","#00e080","#c4dc00","#f0a800","#ff5a00","#ff0000"]}}}},
{"data":{"name":"vmesh"},"mark":{"type":"rule","stroke":"#0a2a00","strokeWidth":2,"opacity":0.45},"encoding":{"x":{"field":"x","type":"quantitative"},"y":{"field":"y","type":"quantitative"},"y2":{"field":"y2"}}},
{"data":{"name":"hmesh"},"mark":{"type":"rule","stroke":"#0a2a00","strokeWidth":2,"opacity":0.45},"encoding":{"y":{"field":"y","type":"quantitative"},"x":{"field":"x","type":"quantitative"},"x2":{"field":"x2"}}},
{"data":{"name":"maskv"},"mark":{"type":"area","fill":"white"},"encoding":{"x":{"field":"x","type":"quantitative"},"y":{"field":"y","type":"quantitative"},"y2":{"field":"y2"},"detail":{"field":"s"}}},
{"data":{"name":"maskh"},"mark":{"type":"area","fill":"white","orient":"horizontal"},"encoding":{"y":{"field":"y","type":"quantitative"},"x":{"field":"x","type":"quantitative"},"x2":{"field":"x2"},"detail":{"field":"s"}}},
{"data":{"name":"frames"},"mark":{"type":"rule","stroke":"#b0b0b0","strokeWidth":3},"encoding":{"x":{"field":"x","type":"quantitative"},"y":{"field":"y","type":"quantitative"},"y2":{"field":"y2"}}},
{"data":{"name":"crosses"},"mark":{"type":"point","shape":"M-1,-1L1,1M-1,1L1,-1","size":220,"stroke":"#c4c4c4","strokeWidth":2,"filled":false},"encoding":{"x":{"field":"x","type":"quantitative"},"y":{"field":"y","type":"quantitative"}}},
{"data":{"name":"light"},"mark":{"type":"rule","stroke":"#e4e4e4","strokeWidth":4,"strokeDash":[6,7]},"encoding":{"x":{"field":"x","type":"quantitative"},"x2":{"field":"x2"},"y":{"field":"y","type":"quantitative"}}},
{"data":{"name":"lightv"},"mark":{"type":"rule","stroke":"#e4e4e4","strokeWidth":4,"strokeDash":[6,7]},"encoding":{"x":{"field":"x","type":"quantitative"},"y":{"field":"y","type":"quantitative"},"y2":{"field":"y2"}}},
{"data":{"name":"dark"},"mark":{"type":"rule","stroke":"#555555","strokeWidth":4,"strokeDash":[6,6.6]},"encoding":{"x":{"field":"x","type":"quantitative"},"x2":{"field":"x2"},"y":{"field":"y","type":"quantitative"}}},
{"data":{"name":"drop"},"mark":{"type":"rule","stroke":"#222222","strokeWidth":3,"strokeDash":[9,4]},"encoding":{"x":{"field":"x","type":"quantitative"},"y":{"field":"y","type":"quantitative"},"y2":{"field":"y2"}}},
{"data":{"name":"curves"},"mark":{"type":"line","strokeWidth":6,"interpolate":"monotone"},"encoding":{"x":{"field":"x","type":"quantitative"},"y":{"field":"y","type":"quantitative"},"stroke":{"field":"series","type":"nominal","sort":["FEM","Experimental"],"scale":{"domain":["FEM","Experimental"],"range":["#1b96dc","#f57c2a"]},"legend":{"title":null,"orient":"none","legendX":2915,"legendY":-19,"labelFont":"Liberation Serif","labelFontSize":92,"labelColor":"#595959","labelOffset":8,"symbolType":"stroke","symbolSize":11449,"symbolStrokeWidth":5,"rowPadding":44,"labelLimit":800}},"strokeDash":{"field":"series","type":"nominal","sort":["FEM","Experimental"],"scale":{"domain":["FEM","Experimental"],"range":[[1,0],[24,16]]},"legend":{"title":null,"orient":"none","legendX":2915,"legendY":-19,"labelFont":"Liberation Serif","labelFontSize":92,"labelColor":"#595959","labelOffset":8,"symbolType":"stroke","symbolSize":11449,"symbolStrokeWidth":5,"rowPadding":44,"labelLimit":800}}}},
{"data":{"name":"arrows"},"mark":{"type":"rule","stroke":"#444444","strokeWidth":3},"encoding":{"x":{"field":"x","type":"quantitative"},"x2":{"field":"x2"},"y":{"field":"y","type":"quantitative"},"y2":{"field":"y2"}}},
{"data":{"name":"heads"},"mark":{"type":"point","shape":"triangle-up","filled":true,"fill":"black","stroke":null,"opacity":1,"size":1500},"encoding":{"x":{"field":"x","type":"quantitative"},"y":{"field":"y","type":"quantitative"},"angle":{"field":"a","type":"quantitative","scale":null}}},
{"data":{"name":"pts"},"mark":{"type":"point","shape":"M-1,0A1,0.87,0,1,1,1,0A1,0.87,0,1,1,-1,0Z","filled":true,"fill":"black","stroke":null,"opacity":1,"size":2304},"encoding":{"x":{"field":"x","type":"quantitative"},"y":{"field":"y","type":"quantitative"}}}
]}
